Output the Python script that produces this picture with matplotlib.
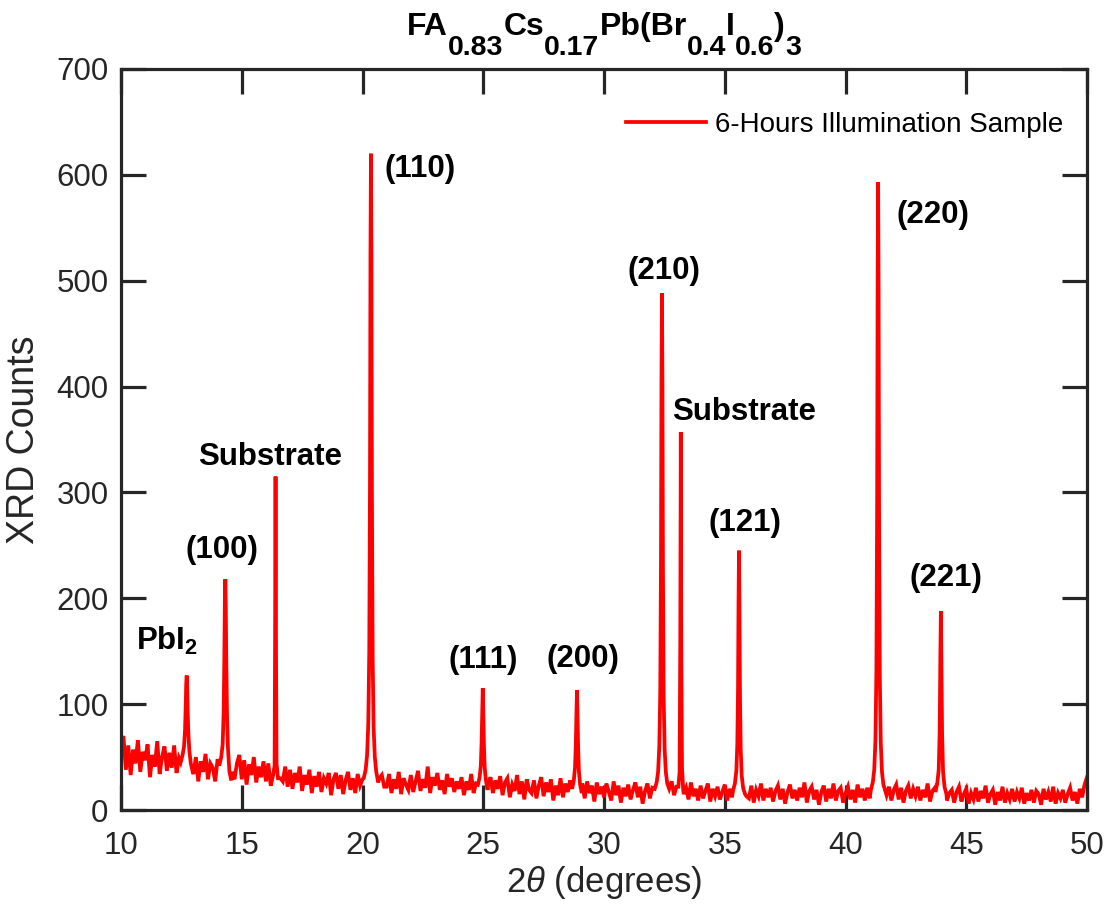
import numpy as np
import matplotlib
matplotlib.use("Agg")
import matplotlib.pyplot as plt

plt.rcParams['font.family'] = ['Liberation Sans', 'DejaVu Sans']
plt.rcParams['mathtext.fontset'] = 'custom'
plt.rcParams['mathtext.rm'] = 'Liberation Sans'
plt.rcParams['mathtext.it'] = 'Liberation Sans:italic'
plt.rcParams['mathtext.bf'] = 'Liberation Sans:bold'

# ---------------- data ----------------
two_theta_start = 10.0
two_theta_step = 0.1
# background counts, one row per degree (10.0 ... 49.9), then 50.0
baseline_counts = [
    52, 70, 38, 61, 33, 57, 44, 66, 36, 55,   # 10
    47, 62, 31, 52, 41, 65, 34, 50, 60, 37,   # 11
    54, 40, 61, 35, 49, 61, 40, 52, 45, 57,   # 12
    34, 50, 27, 46, 36, 53, 29, 44, 40, 27,   # 13
    48, 32, 45, 38, 52, 40, 36, 29, 44, 52,   # 14
    29, 47, 24, 43, 33, 50, 26, 41, 31, 46,   # 15
    27, 44, 23, 40, 31, 38, 30, 27, 41, 22,   # 16
    38, 20, 35, 26, 41, 18, 33, 24, 38, 16,   # 17
    32, 22, 36, 17, 30, 25, 35, 14, 29, 35,   # 18
    20, 33, 15, 28, 36, 19, 30, 16, 34, 23,   # 19
    29, 18, 34, 22, 31, 27, 36, 30, 33, 22,   # 20
    22, 34, 16, 29, 20, 36, 15, 30, 24, 19,   # 21
    33, 17, 27, 37, 18, 29, 21, 41, 16, 31,   # 22
    23, 35, 19, 28, 15, 34, 22, 30, 17, 27,   # 23
    20, 31, 14, 27, 19, 34, 16, 25, 20, 29,   # 24
    26, 17, 24, 31, 16, 28, 20, 32, 14, 26,   # 25
    30, 12, 24, 18, 33, 15, 27, 10, 29, 19,   # 26
    16, 28, 11, 23, 31, 13, 26, 17, 29, 9,    # 27
    23, 14, 30, 12, 25, 17, 28, 10, 22, 15,   # 28
    20, 25, 11, 27, 16, 23, 8, 26, 15, 22,    # 29
    12, 25, 17, 9, 27, 14, 23, 7, 21, 13,     # 30
    24, 10, 19, 26, 12, 22, 6, 18, 25, 11,    # 31
    21, 13, 25, 9, 19, 15, 23, 10, 27, 14,    # 32
    22, 12, 24, 15, 21, 10, 26, 13, 20, 9,    # 33
    23, 11, 18, 25, 8, 20, 13, 22, 10, 17,    # 34
    24, 9, 20, 12, 22, 14, 19, 10, 21, 13,    # 35
    11, 23, 7, 19, 13, 25, 9, 20, 12, 21,     # 36
    8, 18, 23, 10, 20, 6, 17, 24, 11, 19,     # 37
    9, 21, 12, 26, 7, 18, 22, 10, 19, 5,      # 38
    17, 23, 8, 20, 11, 25, 9, 18, 21, 7,      # 39
    16, 22, 10, 19, 7, 24, 12, 20, 9, 21,     # 40
    11, 18, 23, 12, 19, 16, 18, 14, 22, 9,    # 41
    19, 24, 10, 21, 7, 18, 23, 11, 20, 13,    # 42
    22, 9, 19, 12, 25, 8, 18, 21, 10, 17,     # 43
    12, 21, 9, 16, 19, 7, 17, 22, 8, 15,      # 44
    20, 6, 16, 10, 21, 8, 18, 11, 23, 7,      # 45
    15, 19, 5, 17, 9, 22, 7, 16, 10, 20,      # 46
    8, 17, 11, 21, 6, 16, 9, 19, 7, 18,       # 47
    15, 5, 20, 10, 17, 8, 22, 6, 16, 11,      # 48
    19, 7, 15, 21, 9, 17, 6, 20, 12, 24,      # 49
    31,                                       # 50
]

# diffraction peaks: sampled profile points (2theta, counts)
peak_pbi2_x = [12.47, 12.55, 12.61, 12.65, 12.68, 12.70, 12.72, 12.74, 12.76, 12.79, 12.83, 12.89, 12.97]
peak_pbi2_y = [45, 52, 60, 75, 98, 119, 127, 117, 94, 72, 56, 44, 36]
peak_100_x = [14.07, 14.15, 14.21, 14.25, 14.28, 14.30, 14.32, 14.34, 14.36, 14.39, 14.43, 14.49, 14.57]
peak_100_y = [42, 50, 62, 92, 145, 198, 218, 192, 140, 90, 58, 36, 28]
peak_sub1_x = [16.30, 16.36, 16.38, 16.40, 16.42, 16.44, 16.50]
peak_sub1_y = [33, 42, 155, 315, 145, 44, 30]
peak_110_x = [20.05, 20.13, 20.19, 20.24, 20.28, 20.31, 20.33, 20.35, 20.37, 20.39, 20.42, 20.46, 20.51, 20.57, 20.65]
peak_110_y = [30, 38, 52, 82, 150, 310, 525, 620, 520, 300, 145, 78, 50, 36, 26]
peak_111_x = [24.78, 24.85, 24.90, 24.93, 24.96, 24.98, 25.00, 25.03, 25.06, 25.11, 25.18]
peak_111_y = [24, 31, 42, 63, 97, 115, 95, 60, 40, 28, 19]
peak_200_x = [28.68, 28.75, 28.80, 28.83, 28.86, 28.88, 28.90, 28.93, 28.96, 29.01, 29.08]
peak_200_y = [20, 28, 40, 60, 95, 113, 94, 58, 37, 24, 16]
peak_210_x = [32.10, 32.18, 32.24, 32.29, 32.33, 32.36, 32.38, 32.40, 32.42, 32.44, 32.47, 32.51, 32.56, 32.62, 32.70]
peak_210_y = [20, 26, 36, 60, 112, 240, 405, 488, 400, 235, 108, 58, 36, 25, 20]
peak_sub2_x = [33.08, 33.13, 33.16, 33.18, 33.20, 33.23, 33.28]
peak_sub2_y = [22, 36, 165, 357, 155, 40, 19]
peak_121_x = [35.34, 35.42, 35.48, 35.52, 35.55, 35.57, 35.59, 35.61, 35.63, 35.66, 35.70, 35.76, 35.84]
peak_121_y = [18, 25, 37, 62, 115, 195, 245, 190, 110, 58, 33, 21, 15]
peak_220_x = [41.05, 41.13, 41.19, 41.24, 41.28, 41.31, 41.33, 41.35, 41.37, 41.39, 41.42, 41.46, 41.51, 41.57, 41.65]
peak_220_y = [19, 26, 38, 66, 132, 290, 495, 593, 490, 280, 128, 64, 36, 24, 18]
peak_221_x = [43.72, 43.80, 43.86, 43.90, 43.93, 43.95, 43.97, 44.00, 44.04, 44.10, 44.18]
peak_221_y = [17, 25, 38, 74, 150, 188, 145, 72, 36, 22, 15]

# annotation labels and their positions (2theta, counts)
label_texts = [r'$\mathbf{PbI_2}$', '(100)', 'Substrate', '(110)', '(111)', '(200)',
               '(210)', 'Substrate', '(121)', '(220)', '(221)']
label_x = [11.9, 14.2, 16.17, 22.4, 24.99, 29.13, 32.5, 35.82, 35.82, 43.62, 44.14]
label_y = [160, 246, 333, 606, 142, 143, 509, 376, 271, 562, 219]

# title pieces: (text, is_subscript)
title_pieces = [('FA', False), ('0.83', True), ('Cs', False), ('0.17', True),
                ('Pb(Br', False), ('0.4', True), ('I', False), ('0.6', True),
                (')', False), ('3', True)]
legend_label = '6-Hours Illumination Sample'
x_ticks = [10, 15, 20, 25, 30, 35, 40, 45, 50]
y_ticks = [0, 100, 200, 300, 400, 500, 600, 700]

# ---------------- assemble pattern ----------------
peaks = [(peak_pbi2_x, peak_pbi2_y), (peak_100_x, peak_100_y), (peak_sub1_x, peak_sub1_y),
         (peak_110_x, peak_110_y), (peak_111_x, peak_111_y), (peak_200_x, peak_200_y),
         (peak_210_x, peak_210_y), (peak_sub2_x, peak_sub2_y), (peak_121_x, peak_121_y),
         (peak_220_x, peak_220_y), (peak_221_x, peak_221_y)]
bx = np.round(two_theta_start + two_theta_step * np.arange(len(baseline_counts)), 2)
by = np.array(baseline_counts, dtype=float)
keep = np.ones(len(bx), dtype=bool)
for px, py in peaks:
    keep &= ~((bx >= min(px)) & (bx <= max(px)))
all_x = list(bx[keep])
all_y = list(by[keep])
for px, py in peaks:
    all_x += list(px)
    all_y += list(py)
all_x = np.array(all_x)
all_y = np.array(all_y)
order = np.argsort(all_x)
all_x = all_x[order]
all_y = all_y[order]

# ---------------- plot ----------------
W, H = 1108, 905
fig = plt.figure(figsize=(W / 100, H / 100), dpi=100)
ax = fig.add_axes([121 / W, 95 / H, 966 / W, 741 / H])
ax.plot(all_x, all_y, color='#FF0000', lw=2.7, label=legend_label, solid_joinstyle='miter')

ax.set_xlim(10, 50)
ax.set_ylim(0, 700)
ax.set_xticks(x_ticks)
ax.set_yticks(y_ticks)
frame_col = '#262626'
for s in ax.spines.values():
    s.set_linewidth(2.3)
    s.set_color(frame_col)
ax.tick_params(direction='in', length=18, width=2.3, colors=frame_col,
               top=True, right=True, labelsize=22.5)
ax.tick_params(axis='x', pad=15)
ax.tick_params(axis='y', pad=9)

ax.set_xlabel(r'2$\theta$ (degrees)', fontsize=25, color=frame_col, labelpad=2)
ax.set_ylabel('XRD Counts', fontsize=27, color=frame_col, labelpad=10)

for t, x, y in zip(label_texts, label_x, label_y):
    ax.text(x, y, t, fontsize=22.5, fontweight='bold', ha='center', va='center', color='black')

# title composed of pieces with large, lowered subscripts
renderer = fig.canvas.get_renderer()
main_size, sub_size = 23, 20.5
main_base = 1 - 35 / H
sub_base = 1 - 55 / H
items = []
total = 0.0
for txt, sub in title_pieces:
    t = fig.text(0, sub_base if sub else main_base, txt, fontsize=sub_size if sub else main_size,
                 fontweight='bold', va='baseline', ha='left', color='black')
    w = t.get_window_extent(renderer).width
    items.append((t, w))
    total += w
x0 = 604 - total / 2
for t, w in items:
    t.set_x(x0 / W)
    x0 += w

ax.legend(loc='center right', bbox_to_anchor=(0.975, 0.9244), frameon=False,
          fontsize=20, handlelength=2.86, handletextpad=0.32, borderpad=0, borderaxespad=0)

fig.savefig('out.png', dpi=100)
